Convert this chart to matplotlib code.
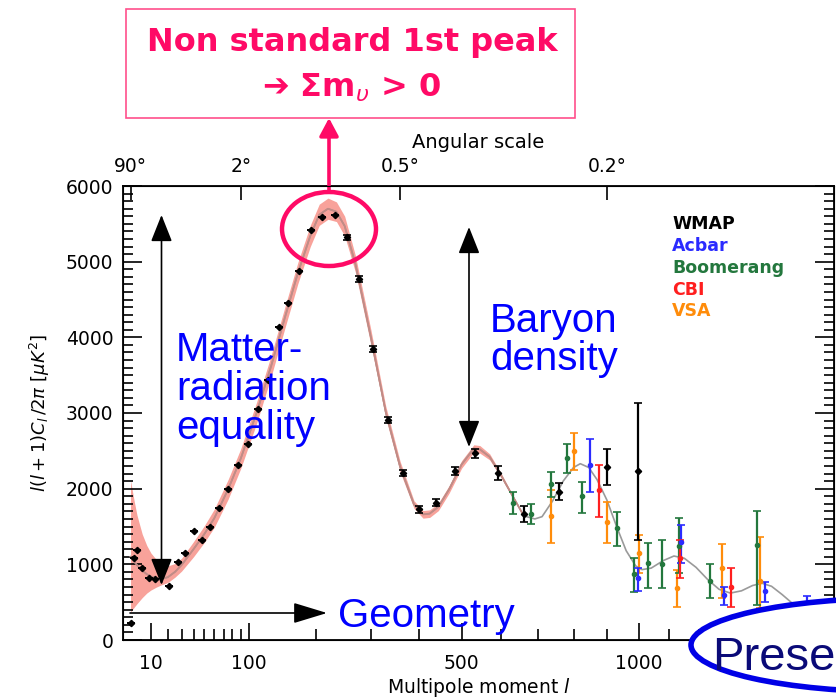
import numpy as np
import matplotlib.pyplot as plt
from matplotlib.patches import Ellipse, Rectangle

W, H = 837, 699

# best-fit model spectrum D_l = l(l+1)C_l/2pi
model_l = [2, 3, 4, 6, 8, 10, 13, 16, 20, 25, 30, 40, 50, 60, 75, 90, 110, 130, 150, 170,
           190, 205, 220, 235, 250, 270, 300, 330, 360, 390, 410, 425, 445, 470, 500, 530, 545, 570, 600, 630,
           660, 690, 710, 740, 770, 800, 820, 845, 870, 900, 930, 960, 990, 1010, 1040, 1080, 1115, 1150, 1190, 1230,
           1270, 1310, 1350, 1390, 1425, 1460, 1500, 1550, 1600, 1650, 1700]
model_dl = [1100, 1040, 990, 920, 870, 840, 815, 810, 830, 900, 990, 1200, 1400, 1610, 1990, 2400, 3000, 3620, 4260, 4850,
            5340, 5620, 5700, 5660, 5470, 4970, 4000, 3010, 2290, 1790, 1660, 1670, 1760, 1990, 2320, 2530, 2520, 2420, 2170, 1900,
            1640, 1600, 1630, 1840, 2100, 2280, 2330, 2280, 2120, 1850, 1500, 1180, 980, 930, 950, 1050, 1110, 1080, 960, 800,
            670, 620, 650, 720, 750, 710, 600, 450, 340, 280, 240]

# cosmic variance band
band_l = [2, 3, 4, 6, 8, 10, 13, 16, 20, 25, 30, 40, 50, 60, 75, 90, 110, 130, 150, 170,
          190, 205, 220, 235, 250, 270, 300, 330, 360, 390, 410, 425, 445, 470, 500, 530, 545, 570, 600, 630, 660]
band_lo = [370, 430, 480, 560, 620, 660, 700, 730, 760, 830, 910, 1100, 1290, 1490, 1860, 2270, 2860, 3480, 4120, 4710,
           5200, 5480, 5560, 5530, 5340, 4860, 3900, 2930, 2220, 1740, 1610, 1620, 1710, 1940, 2270, 2480, 2470, 2380, 2140, 1880, 1630]
band_hi = [2110, 1850, 1650, 1400, 1250, 1150, 1060, 1000, 980, 1010, 1080, 1300, 1510, 1730, 2120, 2530, 3140, 3760, 4400, 4990,
           5480, 5760, 5840, 5790, 5600, 5080, 4100, 3090, 2360, 1840, 1710, 1720, 1810, 2040, 2370, 2580, 2570, 2460, 2200, 1920, 1650]

# WMAP
wmap_l = [2, 3, 4, 6, 9, 12, 21, 27, 33, 40, 48, 56, 65, 75, 86, 99, 112, 126, 141, 155,
          172, 192, 210, 232, 254, 277, 305, 334, 366, 401, 439, 483, 532, 592, 661, 758, 900, 996]
wmap_dl = [230, 1090, 1190, 950, 815, 800, 715, 1035, 1155, 1440, 1320, 1490, 1740, 1995, 2315, 2590, 3055, 3435, 4140, 4450,
           4880, 5425, 5595, 5615, 5320, 4770, 3840, 2905, 2210, 1725, 1815, 2235, 2465, 2205, 1665, 1960, 2290, 2230]
wmap_err = [0, 0, 0, 0, 0, 0, 0, 0, 0, 0, 0, 0, 0, 0, 0, 0, 0, 0, 0, 0,
            0, 0, 0, 0, 30, 40, 40, 40, 40, 45, 50, 55, 60, 90, 100, 110, 235, 905]

# Boomerang
boom_l = [630, 679, 734, 780, 826, 930, 984, 1030, 1076, 1133, 1238, 1407]
boom_dl = [1805, 1665, 2060, 2400, 1905, 1475, 870, 1020, 1005, 1240, 785, 1255]
boom_lo = [1665, 1530, 1895, 2205, 1680, 1240, 640, 685, 685, 880, 550, 465]
boom_hi = [1950, 1800, 2225, 2590, 2090, 1695, 1090, 1280, 1320, 1610, 1005, 1705]

# Acbar
acbar_l = [849, 996, 1139, 1289, 1437, 1596]
acbar_dl = [2315, 815, 1300, 595, 650, 420]
acbar_lo = [1950, 650, 1015, 465, 505, 265]
acbar_hi = [2655, 950, 1520, 705, 770, 580]

# CBI
cbi_l = [876, 1136, 1313]
cbi_dl = [1980, 1080, 695]
cbi_lo = [1630, 815, 440]
cbi_hi = [2315, 1320, 950]

# VSA
vsa_l = [734, 800, 901, 1002, 1124, 1280, 1416]
vsa_dl = [1645, 2500, 1555, 1145, 685, 950, 785]
vsa_lo = [1285, 2245, 1285, 880, 440, 550, 420]
vsa_hi = [1980, 2740, 1830, 1390, 925, 1270, 1365]

angle_l = [2, 90, 360, 900]
angle_labels = ['90°', '2°', '0.5°', '0.2°']

C_BOOM = '#23773d'
C_ACBAR = '#2b2bff'
C_CBI = '#ff1f1f'
C_VSA = '#ff8c0a'
PINK = '#ff0a66'
BLUE = '#0000ff'


def fwd(l):
    l = np.asarray(l, dtype=float)
    return np.sign(l) * np.abs(l) ** 0.6


def inv(u):
    u = np.asarray(u, dtype=float)
    return np.sign(u) * np.abs(u) ** (1 / 0.6)


def px(x, y):
    return x / W, 1 - y / H


plt.rcParams['font.family'] = 'DejaVu Sans'
plt.rcParams['mathtext.fontset'] = 'dejavusans'

fig = plt.figure(figsize=(W / 100, H / 100), dpi=100)
ax = fig.add_axes([123 / W, 1 - 640 / H, 711 / W, 454 / H])
ax.set_xscale('function', functions=(fwd, inv))
ax.set_xlim(0.43, 1700)
ax.set_ylim(0, 6000)

ax.fill_between(band_l, band_lo, band_hi, color='#f8a29a', lw=0, zorder=1)
ax.plot(model_l, model_dl, color='#9a9a9a', lw=1.2, zorder=2)
ax.plot(band_l, [m for l, m in zip(model_l, model_dl) if l <= 660], color='#c58a84', lw=1.2, zorder=2)


def yerr(dl, lo, hi):
    return [np.subtract(dl, lo), np.subtract(hi, dl)]


for l, dl, lo, hi, c in [(vsa_l, vsa_dl, vsa_lo, vsa_hi, C_VSA),
                         (boom_l, boom_dl, boom_lo, boom_hi, C_BOOM),
                         (acbar_l, acbar_dl, acbar_lo, acbar_hi, C_ACBAR),
                         (cbi_l, cbi_dl, cbi_lo, cbi_hi, C_CBI)]:
    ax.errorbar(l, dl, yerr=yerr(dl, lo, hi), fmt='o', ms=3, color=c, ecolor=c,
                elinewidth=1.6, capsize=3, capthick=1.2, zorder=3)

ax.errorbar(wmap_l, wmap_dl, yerr=wmap_err, fmt='D', ms=3.2, color='black',
            elinewidth=1.6, capsize=3, capthick=1.2, zorder=4)

# axes styling
ax.set_xticks([10, 100, 500, 1000])
ax.set_xticklabels(['10', '100', '500', '1000'])
ax.set_xticks([20, 30, 40, 50, 60, 70, 80, 90, 200, 300, 400, 600, 700, 800, 900,
               1100, 1200, 1300, 1400, 1500, 1600], minor=True)
ax.set_yticks(np.arange(0, 6001, 1000))
ax.set_yticks(np.arange(0, 6001, 100), minor=True)
ax.tick_params(which='both', direction='in', top=False, right=True, labelsize=13.5, width=1.2)
ax.tick_params(axis='x', which='major', length=12, pad=10)
ax.tick_params(axis='x', which='minor', length=8)
ax.tick_params(axis='y', which='major', length=14, pad=7)
ax.tick_params(axis='y', which='minor', length=7)
for s in ax.spines.values():
    s.set_linewidth(1.3)

ax.set_xlabel('Multipole moment $l$', fontsize=13.5)
ax.xaxis.set_label_coords(0.5, -0.079)
ax.set_ylabel(r'$l(l+1)C_l\,/2\pi\ [\mu K^2]$', fontsize=13)
ax.yaxis.set_label_coords(-0.1, 0.5)

top = ax.twiny()
top.set_xscale('function', functions=(fwd, inv))
top.set_xlim(ax.get_xlim())
top.set_xticks(angle_l)
top.set_xticklabels(angle_labels)
top.tick_params(direction='in', length=10, width=1.2, labelsize=13.5, pad=7)
top.xaxis.set_minor_locator(plt.NullLocator())
fig.text(*px(478, 143), 'Angular scale', fontsize=14, ha='center', va='center')

# experiment names
for name, c, y in [('WMAP', 'black', 224), ('Acbar', C_ACBAR, 246), ('Boomerang', C_BOOM, 268),
                   ('CBI', C_CBI, 290), ('VSA', C_VSA, 311)]:
    fig.text(*px(672, y), name, color=c, fontsize=12.5, fontweight='bold', ha='left', va='center')

# physics arrows
arrow = dict(arrowstyle='<|-|>,head_length=0.83,head_width=0.33', mutation_scale=20,
             color='black', lw=1.2, shrinkA=0, shrinkB=0)
ax.annotate('', xy=px(161.5, 215), xytext=px(161.5, 585), xycoords='figure fraction',
            textcoords='figure fraction', arrowprops=arrow)
ax.annotate('', xy=px(469, 227), xytext=px(469, 447), xycoords='figure fraction',
            textcoords='figure fraction', arrowprops=arrow)
ax.annotate('', xy=px(327, 613), xytext=px(130, 613), xycoords='figure fraction',
            textcoords='figure fraction',
            arrowprops=dict(arrowstyle='-|>,head_length=1.05,head_width=0.32', mutation_scale=20,
                            color='black', lw=1.2, shrinkA=0, shrinkB=0))

txt = dict(color=BLUE, fontsize=29, family='Liberation Sans', ha='left', va='baseline')
fig.text(*px(176, 361), 'Matter-', **txt)
fig.text(*px(176, 400), 'radiation', **txt)
fig.text(*px(176, 439), 'equality', **txt)
fig.text(*px(490, 332), 'Baryon', **txt)
fig.text(*px(490, 370), 'density', **txt)
fig.text(*px(338, 627), 'Geometry', **txt)

# first peak call-out
fig.add_artist(Ellipse(px(329, 229), 94 / W, 74 / H, transform=fig.transFigure,
                       fill=False, ec=PINK, lw=3.2, zorder=5))
ax.annotate('', xy=px(329, 118), xytext=px(329, 192), xycoords='figure fraction',
            textcoords='figure fraction',
            arrowprops=dict(arrowstyle='-|>,head_length=0.6,head_width=0.32', mutation_scale=18,
                            color=PINK, lw=2.6, shrinkA=0, shrinkB=0))
fig.add_artist(Rectangle(px(126, 118), 449 / W, 109 / H, transform=fig.transFigure,
                         fill=False, ec='#ff4f8b', lw=1.2))
fig.text(*px(352, 42), 'Non standard 1st peak', color=PINK, fontsize=23, fontweight='bold',
         ha='center', va='center')
fig.text(*px(352, 88), '➔ Σm$_{\\upsilon}$ > 0', color=PINK, fontsize=23, fontweight='bold',
         ha='center', va='center')

# bottom-right label
fig.add_artist(Ellipse(px(900, 645), 418 / W, 94 / H, transform=fig.transFigure,
                       fc='white', ec='#0000e6', lw=4, zorder=6))
fig.text(*px(712, 670), 'Prese', color='#0a0a78', fontsize=34, family='Liberation Sans',
         ha='left', va='baseline', zorder=7)

fig.savefig('out.png', dpi=100)
